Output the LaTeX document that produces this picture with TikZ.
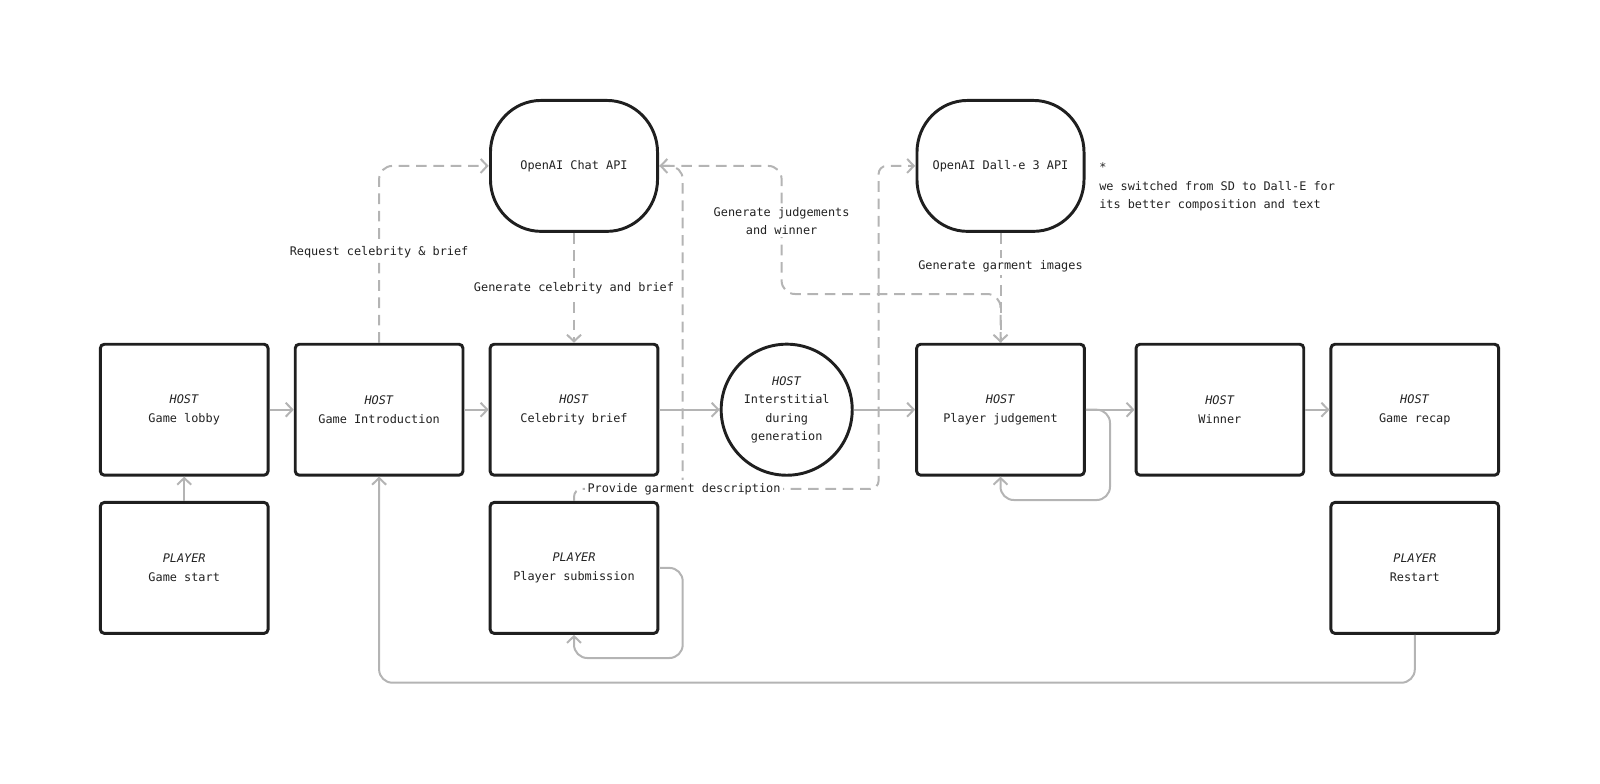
\documentclass[tikz,border=0pt]{standalone}
\usepackage{fontspec}
\setmainfont{DejaVu Sans Mono}
\usetikzlibrary{arrows.meta}
\definecolor{ink}{HTML}{1F1F1F}
\definecolor{conn}{HTML}{B4B4B4}
\definecolor{txt}{HTML}{222222}
\newcommand{\dfont}{\fontsize{8.9}{13.8}\selectfont}
\tikzset{
  box/.style={draw=ink, line width=2.2pt, rounded corners=3pt, minimum width=125.8pt, minimum height=98.2pt, align=center, font=\dfont, text=txt, fill=white, inner sep=0pt},
  api/.style={box, draw=none},
  apiline/.style={draw=ink, line width=2.2pt},
  circ/.style={draw=ink, line width=2.2pt, circle, minimum size=98.3pt, inner sep=0pt, align=center, font=\dfont, text=txt, fill=white},
  flow/.style={draw=conn, line width=1.5pt, -{Straight Barb[length=5pt,width=10.5pt]}, rounded corners=10pt},
  dflow/.style={flow, dash pattern=on 8pt off 5pt},
  lbl/.style={fill=white, inner sep=2pt, font=\dfont, text=txt, align=center},
  note/.style={anchor=base west, inner sep=0pt, font=\dfont, text=txt},
}
% outline of an API node with elliptical corners
\newcommand{\apioutline}[1]{%
  \draw[apiline] ([shift={(-24.65pt,49.1pt)}]#1.center) -- ++(49.3pt,0)
    arc[start angle=90, end angle=0, x radius=38pt, y radius=39pt] -- ++(0,-20.2pt)
    arc[start angle=0, end angle=-90, x radius=38pt, y radius=39pt] -- ++(-49.3pt,0)
    arc[start angle=270, end angle=180, x radius=38pt, y radius=39pt] -- ++(0,20.2pt)
    arc[start angle=180, end angle=90, x radius=38pt, y radius=39pt] -- cycle;}
\begin{document}
\begin{tikzpicture}[x=0.75pt, y=-0.75pt]
\useasboundingbox (0,0) rectangle (1600,783);

% nodes
\node[box] (lobby)   at (184.2,409.7) {\textit{HOST}\\Game lobby};
\node[box] (start)   at (184.2,567.9) {\textit{PLAYER}\\Game start};
\node[box] (intro)   at (379.1,409.7) {\textit{HOST}\\Game Introduction};
\node[box] (brief)   at (574,409.7)   {\textit{HOST}\\Celebrity brief};
\node[box] (sub)     at (574,567.9)   {\textit{PLAYER}\\Player submission};
\node[circ] (inter)  at (786.7,409.7) {\textit{HOST}\\Interstitial\\during\\generation};
\node[box] (judge)   at (1000.5,409.7) {\textit{HOST}\\Player judgement};
\node[box] (winner)  at (1219.9,409.7) {\textit{HOST}\\Winner};
\node[box] (recap)   at (1414.8,409.7) {\textit{HOST}\\Game recap};
\node[box] (restart) at (1414.8,567.9) {\textit{PLAYER}\\Restart};
\node[api] (chat)    at (574,165.9)   {OpenAI Chat API};
\node[api] (dalle)   at (1000.5,165.9) {OpenAI Dall-e 3 API};
\apioutline{chat}
\apioutline{dalle}

\node[note] (note1) at (1099,171.5) {*};
\node[note] (note2) at (1099,190) {we switched from SD to Dall-E for};
\node[note] (note3) at (1099,208.5) {its better composition and text};

% solid flow
\draw[flow] (lobby.east) -- (intro.west);
\draw[flow] (intro.east) -- (brief.west);
\draw[flow] (brief.east) -- (inter.west);
\draw[flow] (inter.east) -- (judge.west);
\draw[flow] (judge.east) -- (winner.west);
\draw[flow] (winner.east) -- (recap.west);
\draw[flow] (start.north) -- (lobby.south);
\draw[flow] (judge.east) -- (1110,409.7) -- (1110,500) -- (1000.5,500) -- (judge.south);
\draw[flow] (sub.east) -- (682.7,567.9) -- (682.7,658) -- (574,658) -- (sub.south);
\draw[flow] (restart.south) -- (1414.8,682.7) -- (379.1,682.7) -- (intro.south);

% dashed API flows
\draw[dflow] (intro.north) |- (chat.west);
\draw[dflow] (chat.south) -- (brief.north);
\draw[dflow] (judge.north) |- (781.6,294) |- (chat.east);
\draw[dflow] (dalle.south) -- (judge.north);
\draw[dflow, -] (chat.east) -| (682.7,488.8);
\draw[dflow, rounded corners=6pt] (sub.north) -- (574,488.8) -- (878.6,488.8) -- (878.6,165.9) -- (dalle.west);

% labels
\node[lbl] (l1) at (379.1,252) {Request celebrity \& brief};
\node[lbl] (l2) at (574,287.8) {Generate celebrity and brief};
\node[lbl] (l3) at (781.6,221) {Generate judgements\\and winner};
\node[lbl] (l4) at (1000.5,266.3) {Generate garment images};
\node[lbl] (l5) at (684,488.8) {Provide garment description};
\end{tikzpicture}
\end{document}
